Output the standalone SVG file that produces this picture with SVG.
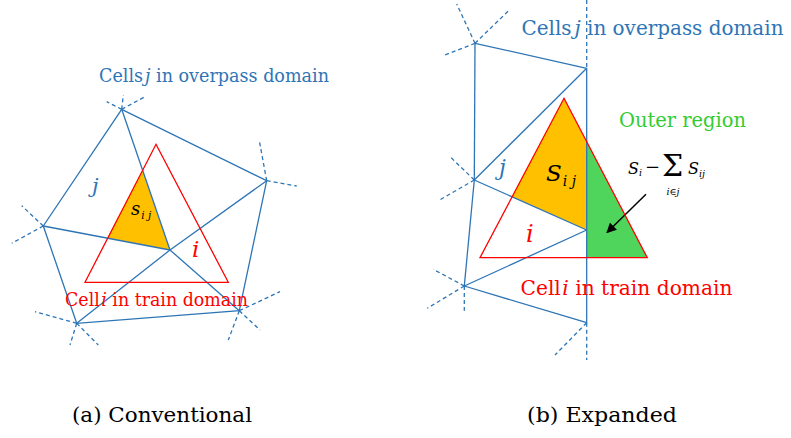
<svg xmlns="http://www.w3.org/2000/svg" width="791" height="438" viewBox="0 0 791 438">
<style>
.b{stroke:#2E75B6;stroke-width:1.3;fill:none}
.d{stroke:#2E75B6;stroke-width:1.3;fill:none;stroke-dasharray:4 3}
.r{stroke:#FF0000;stroke-width:1.3;fill:none}
text{font-family:"DejaVu Serif",serif}
.it{font-style:italic}
.cb{fill:#2E75B6}
.cr{fill:#FF0000}
.cg{fill:#33CC33}
.ck{fill:#000}
.cap{font-size:21px;fill:#000}
</style>
<defs>
<marker id="ah" markerWidth="10" markerHeight="10" refX="9" refY="5" orient="auto" markerUnits="userSpaceOnUse">
<path d="M0,0 L10,5 L0,10 z" fill="#000"/>
</marker>
</defs>
<rect width="791" height="438" fill="#fff"/>

<!-- (a) Conventional -->
<g id="a-fill">
<polygon points="142.6,170.3 170,250 107.7,238.1" fill="#FFC000"/>
</g>
<g id="a-connectors">
<polygon class="b" points="121.7,109.3 266.7,180.7 239.3,310.7 76.7,323.3 43.3,226"/>
<line class="b" x1="121.7" y1="109.3" x2="170" y2="250"/>
<line class="b" x1="43.3" y1="226" x2="170" y2="250"/>
<polyline class="b" points="266.7,180.7 170,250 76.7,323.3"/>
<line class="b" x1="170" y1="250" x2="239.3" y2="310.7"/>
<line class="d" x1="121.7" y1="109.3" x2="106.7" y2="101.7"/>
<line class="d" x1="121.7" y1="109.3" x2="123.3" y2="95"/>
<line class="d" x1="121.7" y1="109.3" x2="145" y2="96.7"/>
<line class="d" x1="266.7" y1="180.7" x2="259.3" y2="140.7"/>
<line class="d" x1="266.7" y1="180.7" x2="296.7" y2="186"/>
<line class="d" x1="43.3" y1="226" x2="21.7" y2="205.7"/>
<line class="d" x1="43.3" y1="226" x2="11.7" y2="243.3"/>
<line class="d" x1="76.7" y1="323.3" x2="35" y2="311.7"/>
<line class="d" x1="76.7" y1="323.3" x2="70" y2="345"/>
<line class="d" x1="76.7" y1="323.3" x2="98.3" y2="345"/>
<line class="d" x1="239.3" y1="310.7" x2="280" y2="291.7"/>
<line class="d" x1="239.3" y1="310.7" x2="228.3" y2="340"/>
<line class="d" x1="239.3" y1="310.7" x2="260" y2="330"/>
</g>
<g id="a-cell-i">
<polygon class="r" points="156,144.3 228.3,282.3 85,282.3"/>
</g>
<g id="a-labels">
<text class="cb" x="99" y="82" font-size="18" textLength="230" lengthAdjust="spacingAndGlyphs">Cells<tspan class="it" dx="2">j</tspan> in overpass domain</text>
<text class="cb it" x="92" y="193" font-size="21">j</text>
<text class="ck it" x="131" y="215" font-size="18">s<tspan font-size="10.5" dy="4" dx="1">i j</tspan></text>
<text class="cr it" x="192" y="256.5" font-size="23">i</text>
<text class="cr" x="65" y="305.5" font-size="18" textLength="183" lengthAdjust="spacingAndGlyphs">Cell<tspan class="it" dx="1.5">i</tspan> in train domain</text>
</g>

<!-- (b) Expanded -->
<g id="b-fill">
<polygon points="564,98.3 586.7,141.7 586.7,230 512.1,196.8" fill="#FFC000"/>
<polygon points="586.7,141.7 647.3,257.7 586.7,257.7" fill="#4FD55B"/>
</g>
<g id="b-connectors">
<line class="b" x1="475" y1="43.3" x2="586.7" y2="68.3"/>
<line class="b" x1="475" y1="43.3" x2="474.3" y2="180"/>
<line class="b" x1="474.3" y1="180" x2="586.7" y2="68.3"/>
<line class="b" x1="474.3" y1="180" x2="586.7" y2="230"/>
<line class="b" x1="474.3" y1="180" x2="464.3" y2="286"/>
<line class="b" x1="464.3" y1="286" x2="586.7" y2="230"/>
<line class="b" x1="464.3" y1="286" x2="586.7" y2="322.7"/>
<line class="b" x1="586.7" y1="68.3" x2="586.7" y2="322.7"/>
<line class="d" x1="586.7" y1="0" x2="586.7" y2="68.3"/>
<line class="d" x1="586.7" y1="322.7" x2="586.7" y2="360"/>
<line class="d" x1="586.7" y1="322.7" x2="555" y2="355"/>
<line class="d" x1="475" y1="43.3" x2="456.7" y2="4"/>
<line class="d" x1="475" y1="43.3" x2="509.3" y2="10"/>
<line class="d" x1="475" y1="43.3" x2="445" y2="55"/>
<line class="d" x1="474.3" y1="180" x2="449.3" y2="156"/>
<line class="d" x1="474.3" y1="180" x2="438.3" y2="200.7"/>
<line class="d" x1="464.3" y1="286" x2="433.3" y2="269.3"/>
<line class="d" x1="464.3" y1="286" x2="427.3" y2="308.3"/>
<line class="d" x1="464.3" y1="286" x2="464.3" y2="310.7"/>
<line x1="646" y1="194.3" x2="607" y2="232.5" stroke="#000" stroke-width="1.5" marker-end="url(#ah)"/>
</g>
<g id="b-cell-i">
<polygon class="r" points="564,98.3 647.3,257.7 480,257.7"/>
</g>
<g id="b-labels">
<text class="cb" x="521.5" y="35" font-size="20" textLength="262" lengthAdjust="spacingAndGlyphs">Cells<tspan class="it" dx="3">j</tspan> in overpass domain</text>
<text class="cg" x="619" y="127" font-size="20" textLength="127" lengthAdjust="spacingAndGlyphs">Outer region</text>
<text class="cb it" x="499" y="175" font-size="22">j</text>
<text class="ck it" x="546" y="181" font-size="23">S<tspan font-size="14" dy="5" dx="1">i j</tspan></text>
<text class="ck it" x="628" y="173.5" font-size="16">S<tspan font-size="9.5" dy="2.5">i</tspan></text>
<text class="ck" x="645" y="173" font-size="18">−</text>
<text class="ck" x="662" y="176" font-size="30">Σ</text>
<text class="ck it" x="673" y="195" font-size="9.5" text-anchor="middle">i∈j</text>
<text class="ck it" x="688" y="173.5" font-size="16">S<tspan font-size="9.5" dy="3">ij</tspan></text>
<text class="cr it" x="526" y="242" font-size="24">i</text>
<text class="cr" x="520.5" y="295" font-size="20.5" textLength="212" lengthAdjust="spacingAndGlyphs">Cell<tspan class="it" dx="1.5">i</tspan> in train domain</text>
</g>

<g id="captions">
<text class="cap" x="72" y="422" textLength="180" lengthAdjust="spacingAndGlyphs">(a) Conventional</text>
<text class="cap" x="527" y="422" textLength="150" lengthAdjust="spacingAndGlyphs">(b) Expanded</text>
</g>
</svg>
